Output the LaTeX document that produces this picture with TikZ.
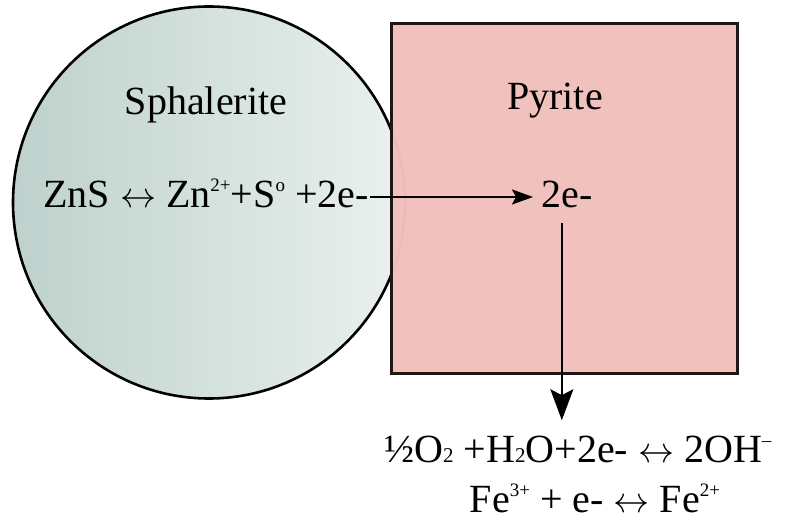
\documentclass[tikz,border=0pt]{standalone}
\usepackage{fontspec}
\setmainfont{Liberation Serif}
\usetikzlibrary{arrows.meta}
\definecolor{sphal}{RGB}{190,209,204}
\definecolor{sphalhi}{RGB}{234,241,239}
\definecolor{pyr}{RGB}{241,192,188}
\definecolor{rim}{RGB}{32,22,22}
\newcommand\sups[1]{\raisebox{0.4em}{\fontsize{19}{20}\selectfont #1}}
\newcommand\subs[1]{\raisebox{-0.02em}{\fontsize{21}{22}\selectfont #1}}
\newcommand\rxn{\ \resizebox{36pt}{!}{$\leftrightarrow$}\ }
\begin{document}
\begin{tikzpicture}[x=1pt, y=-1pt, line width=2.6pt,
  every node/.style={font=\fontsize{40}{48}\selectfont, inner sep=0pt},
  elec/.style={-{Stealth[length=21pt, width=15pt, inset=4pt]}, line width=2.2pt},
  elecbig/.style={-{Stealth[length=31pt, width=23pt, inset=6pt]}, line width=2.2pt}]
  \useasboundingbox (0,0) rectangle (803,521);
  % sphalerite grain behind, pyrite grain in front
  \shade[left color=sphal, right color=sphalhi, draw=black] (209,202.5) circle (196);
  \filldraw[fill=pyr, fill opacity=0.975, draw=rim, line width=3pt] (391,24) rectangle (737,373);
  \node[anchor=base] (sph) at (206,115) {Sphalerite};
  \node[anchor=base] (pyr) at (555,110) {Pyrite};
  \node[anchor=base] (eqzn) at (206,208) {ZnS\rxn Zn\sups{2+}+S\sups{o} +2e-};
  \node[anchor=base west] (epyr) at (540,208) {2e-};
  \node[anchor=base west] (eqox) at (383,462) {½O\subs{2} +H\subs{2}O+2e-\rxn 2OH\sups{--}};
  \node[anchor=base] (eqfe) at (595,512) {Fe\sups{3+} + e-\rxn Fe\sups{2+}};
  % electron transfer
  \draw[elec] ([yshift=11pt]eqzn.base east) -- ([xshift=-7pt,yshift=11pt]epyr.base west);
  \draw[elecbig, shorten >=14pt] ([xshift=-5pt,yshift=-15pt]epyr.base) -- ([xshift=-5pt]epyr.base |- eqox.north);
\end{tikzpicture}
\end{document}
